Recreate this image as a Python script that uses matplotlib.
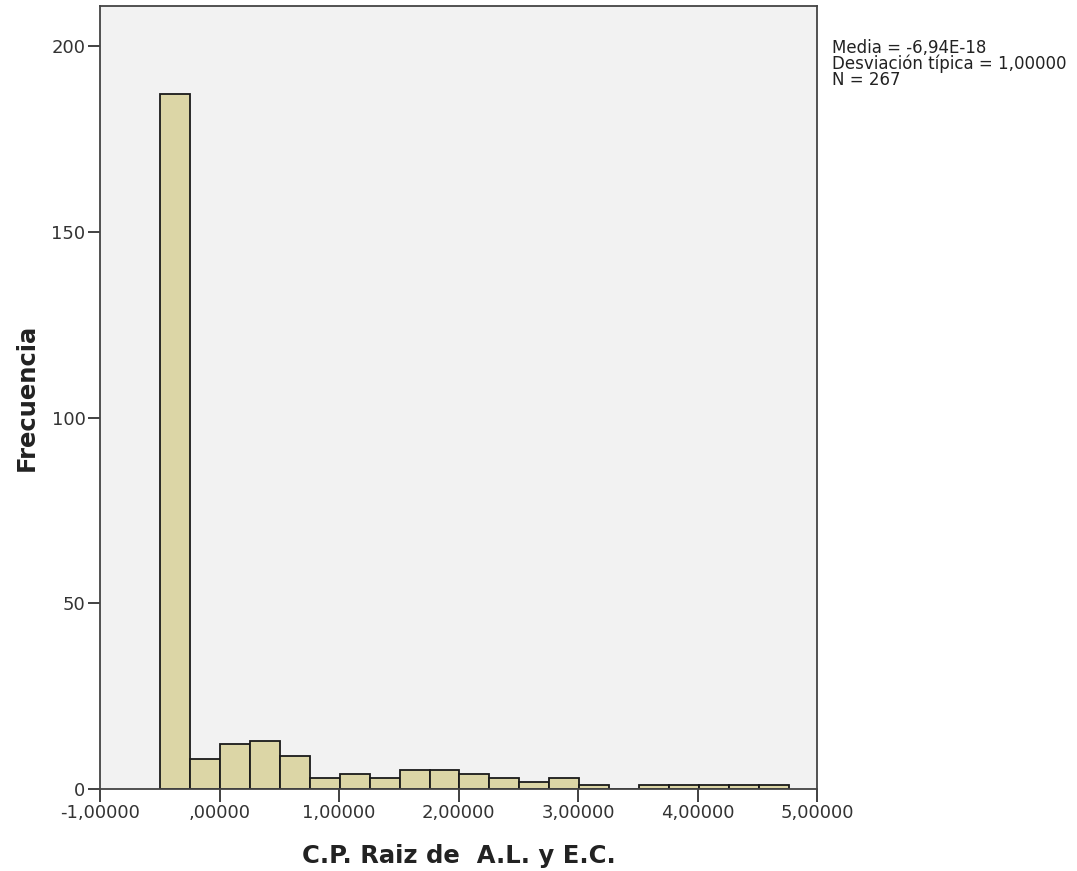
import matplotlib
matplotlib.use("Agg")
import matplotlib.pyplot as plt
import numpy as np
from matplotlib.ticker import FuncFormatter

# Histogram bins (21 bins of equal width) and counts
bin_start = -0.498
bin_width = 0.2506
counts = [187, 8, 12, 13, 9, 3, 4, 3, 5, 5, 4, 3, 2, 3, 1, 0, 1, 1, 1, 1, 1]

x_ticks = [-1, 0, 1, 2, 3, 4, 5]
y_ticks = [0, 50, 100, 150, 200]
stats_text = "Media = -6,94E-18\nDesviación típica = 1,00000\nN = 267"
x_label = "C.P. Raiz de  A.L. y E.C."
y_label = "Frecuencia"

edges = bin_start + bin_width * np.arange(len(counts) + 1)

fig = plt.figure(figsize=(10.77, 8.71), dpi=100)
ax = fig.add_axes([0.0929, 0.0941, 0.6657, 0.899])
ax.set_facecolor("#f2f2f2")

ax.bar(edges[:-1], counts, width=bin_width, align="edge",
       color="#dcd6a6", edgecolor="#1a1a1a", linewidth=1.3, zorder=2)

ax.set_xlim(-1, 5)
ax.set_ylim(0, 210.8)
ax.set_xticks(x_ticks)
ax.set_yticks(y_ticks)


def comma_fmt(v, pos):
    # SPSS style: comma decimal, no leading zero
    s = f"{v:.5f}".replace(".", ",")
    if s.startswith("0,"):
        s = s[1:]
    return s


ax.xaxis.set_major_formatter(FuncFormatter(comma_fmt))
ax.tick_params(axis="both", direction="out", length=9, width=1.3, pad=1.5,
               color="#333333", labelsize=13, labelcolor="#333333")
for sp in ax.spines.values():
    sp.set_color("#444444")
    sp.set_linewidth(1.3)

ax.set_xlabel(x_label, fontsize=17.5, fontweight="bold", color="#222222", labelpad=16)
ax.set_ylabel(y_label, fontsize=17.5, fontweight="bold", color="#222222", labelpad=9)

fig.text(0.7725, 0.955, stats_text, fontsize=12, color="#222222",
         va="top", ha="left", linespacing=0.82)

fig.savefig("out.png", dpi=100)
